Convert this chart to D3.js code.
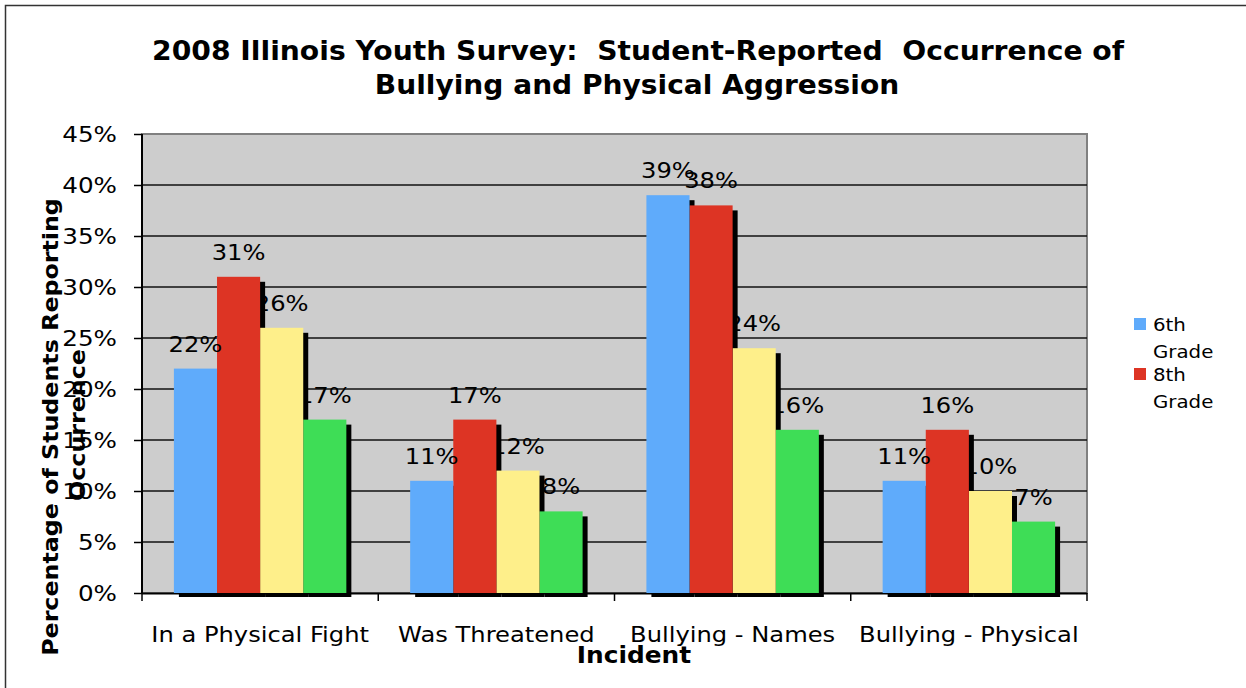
<!DOCTYPE html>
<html>
<head>
<meta charset="utf-8">
<script src="https://cdn.jsdelivr.net/npm/d3@7"></script>
<style>
  html, body { margin: 0; padding: 0; background: #fff; }
  svg text { font-family: "DejaVu Sans", Verdana, sans-serif; white-space: pre; }
</style>
</head>
<body>
<svg id="chart" width="1246" height="688"></svg>
<script>
// ---- data ----
const categories = ["In a Physical Fight", "Was Threatened", "Bullying - Names", "Bullying - Physical"];
const seriesNames = ["6th Grade", "8th Grade", "10th Grade", "12th Grade"];
const grade6 = [22, 11, 39, 11];
const grade8 = [31, 17, 38, 16];
const grade10 = [26, 12, 24, 10];
const grade12 = [17, 8, 16, 7];
const yTicks = [0, 5, 10, 15, 20, 25, 30, 35, 40, 45];
const legendShown = ["6th Grade", "8th Grade"];
const titleLines = ["2008 Illinois Youth Survey:  Student-Reported  Occurrence of", "Bullying and Physical Aggression"];
const yTitleLines = ["Percentage of Students Reporting", "Occurrence"];
const xTitle = "Incident";

// ---- styles ----
const colors = ["#5FABFB", "#DD3424", "#FEEF8A", "#3EDD56"];
const seriesValues = [grade6, grade8, grade10, grade12];

const svg = d3.select("#chart");
const plot = { left: 142, right: 1087, top: 134, bottom: 593 };

// outer frame
svg.append("rect").attr("x", 5.5).attr("y", 5.5).attr("width", 1400).attr("height", 800)
  .attr("fill", "#fff").attr("stroke", "#333").attr("stroke-width", 1.5);

const x0 = d3.scaleBand().domain(categories).range([plot.left, plot.right]).padding(0);
const x1 = d3.scaleBand().domain(seriesNames).range([0, x0.bandwidth()]).paddingInner(0).paddingOuter(0.74);
const y = d3.scaleLinear().domain([0, 45]).range([plot.bottom, plot.top]);

// plot area
svg.append("rect").attr("x", plot.left).attr("y", plot.top)
  .attr("width", plot.right - plot.left).attr("height", plot.bottom - plot.top)
  .attr("fill", "#cdcdcd").attr("stroke", "#808080").attr("stroke-width", 2);

// gridlines
svg.append("g").selectAll("line").data(yTicks.filter(t => t > 0 && t < 45)).join("line")
  .attr("x1", plot.left).attr("x2", plot.right)
  .attr("y1", d => y(d)).attr("y2", d => y(d))
  .attr("stroke", "#111").attr("stroke-width", 1.5);

// helper for horizontally stretched text
function stext(g, txt, xx, yy, opts) {
  const o = Object.assign({ size: 22, weight: "normal", anchor: "middle", sx: 1.1, rot: 0, baseline: null }, opts || {});
  const t = g.append("text")
    .attr("transform", `translate(${xx},${yy}) rotate(${o.rot}) scale(${o.sx},1)`)
    .attr("text-anchor", o.anchor)
    .attr("font-size", o.size)
    .attr("font-weight", o.weight)
    .attr("fill", "#000")
    .text(txt);
  if (o.baseline) t.attr("dominant-baseline", o.baseline);
  return t;
}

// y axis
const yAxisG = svg.append("g").attr("transform", `translate(${plot.left},0)`)
  .call(d3.axisLeft(y).tickValues(yTicks).tickSize(8).tickFormat(d => d + "%"));
yAxisG.select(".domain").attr("stroke", "#000").attr("stroke-width", 2).attr("d", `M0,${plot.top}V${plot.bottom}`);
yAxisG.selectAll(".tick line").attr("stroke", "#000").attr("stroke-width", 1.5);
yAxisG.selectAll(".tick text").remove();
yAxisG.selectAll(".tick").each(function(d) {
  stext(d3.select(this), d + "%", -25, 0, { anchor: "end", size: 22, sx: 1.12, baseline: "central" });
});

// x axis
const xAxisG = svg.append("g").attr("transform", `translate(0,${plot.bottom})`);
xAxisG.append("line").attr("x1", plot.left).attr("x2", plot.right).attr("y1", 0.5).attr("y2", 0.5)
  .attr("stroke", "#000").attr("stroke-width", 2);
const boundaries = categories.map(c => x0(c)).concat([x0(categories[categories.length - 1]) + x0.bandwidth()]);
xAxisG.selectAll("line.tk").data(boundaries).join("line").attr("class", "tk")
  .attr("x1", d => d).attr("x2", d => d).attr("y1", 0).attr("y2", 8)
  .attr("stroke", "#000").attr("stroke-width", 1.5);
categories.forEach(c => {
  stext(svg, c, x0(c) + x0.bandwidth() / 2, 642, { size: 22, sx: 1.1 });
});

// bars: draw order mimics the reference's overlapping
const marks = svg.append("g");
const n = seriesNames.length;
function drawShadow(s) {
  marks.append("g").selectAll("rect").data(categories.map((c, i) => ({ c, v: seriesValues[s][i] }))).join("rect")
    .attr("x", d => x0(d.c) + x1(seriesNames[s]) + 5)
    .attr("y", d => y(d.v) + 5)
    .attr("width", x1.bandwidth())
    .attr("height", d => y(0) + 4 - (y(d.v) + 5))
    .attr("fill", "#000");
}
function drawBar(s) {
  marks.append("g").selectAll("rect").data(categories.map((c, i) => ({ c, v: seriesValues[s][i] }))).join("rect")
    .attr("x", d => x0(d.c) + x1(seriesNames[s]))
    .attr("y", d => y(d.v))
    .attr("width", x1.bandwidth())
    .attr("height", d => y(0) - y(d.v))
    .attr("fill", colors[s]);
}
function drawLabels(s) {
  const g = marks.append("g");
  categories.forEach((c, i) => {
    const v = seriesValues[s][i];
    stext(g, v + "%", x0(c) + x1(seriesNames[s]) + x1.bandwidth() / 2, y(v) - 17, { size: 22, sx: 1.1 });
  });
}
drawShadow(n - 1);
drawLabels(n - 1);
for (let s = n - 2; s >= 0; s--) {
  drawShadow(s);
  drawBar(s + 1);
  drawLabels(s);
}
drawBar(0);

// titles
stext(svg, titleLines[0], 638, 60, { size: 26, weight: "bold", sx: 1.085 });
stext(svg, titleLines[1], 637, 94, { size: 26, weight: "bold", sx: 1.08 });
stext(svg, yTitleLines[0], 58, 427, { size: 22, weight: "bold", sx: 1.08, rot: -90 });
stext(svg, yTitleLines[1], 85, 425, { size: 22, weight: "bold", sx: 1.08, rot: -90 });
stext(svg, xTitle, 634, 663, { size: 23, weight: "bold", sx: 1.08 });

// legend
const legend = svg.append("g");
legendShown.forEach((name, i) => {
  const s = seriesNames.indexOf(name);
  const ly = 318 + i * 50;
  legend.append("rect").attr("x", 1134).attr("y", ly).attr("width", 12).attr("height", 12).attr("fill", colors[s]);
  const parts = name.split(" ");
  stext(legend, parts[0], 1153, ly + 13, { size: 18, anchor: "start", sx: 1.1 });
  stext(legend, parts[1], 1153, ly + 40, { size: 18, anchor: "start", sx: 1.1 });
});
</script>
</body>
</html>
